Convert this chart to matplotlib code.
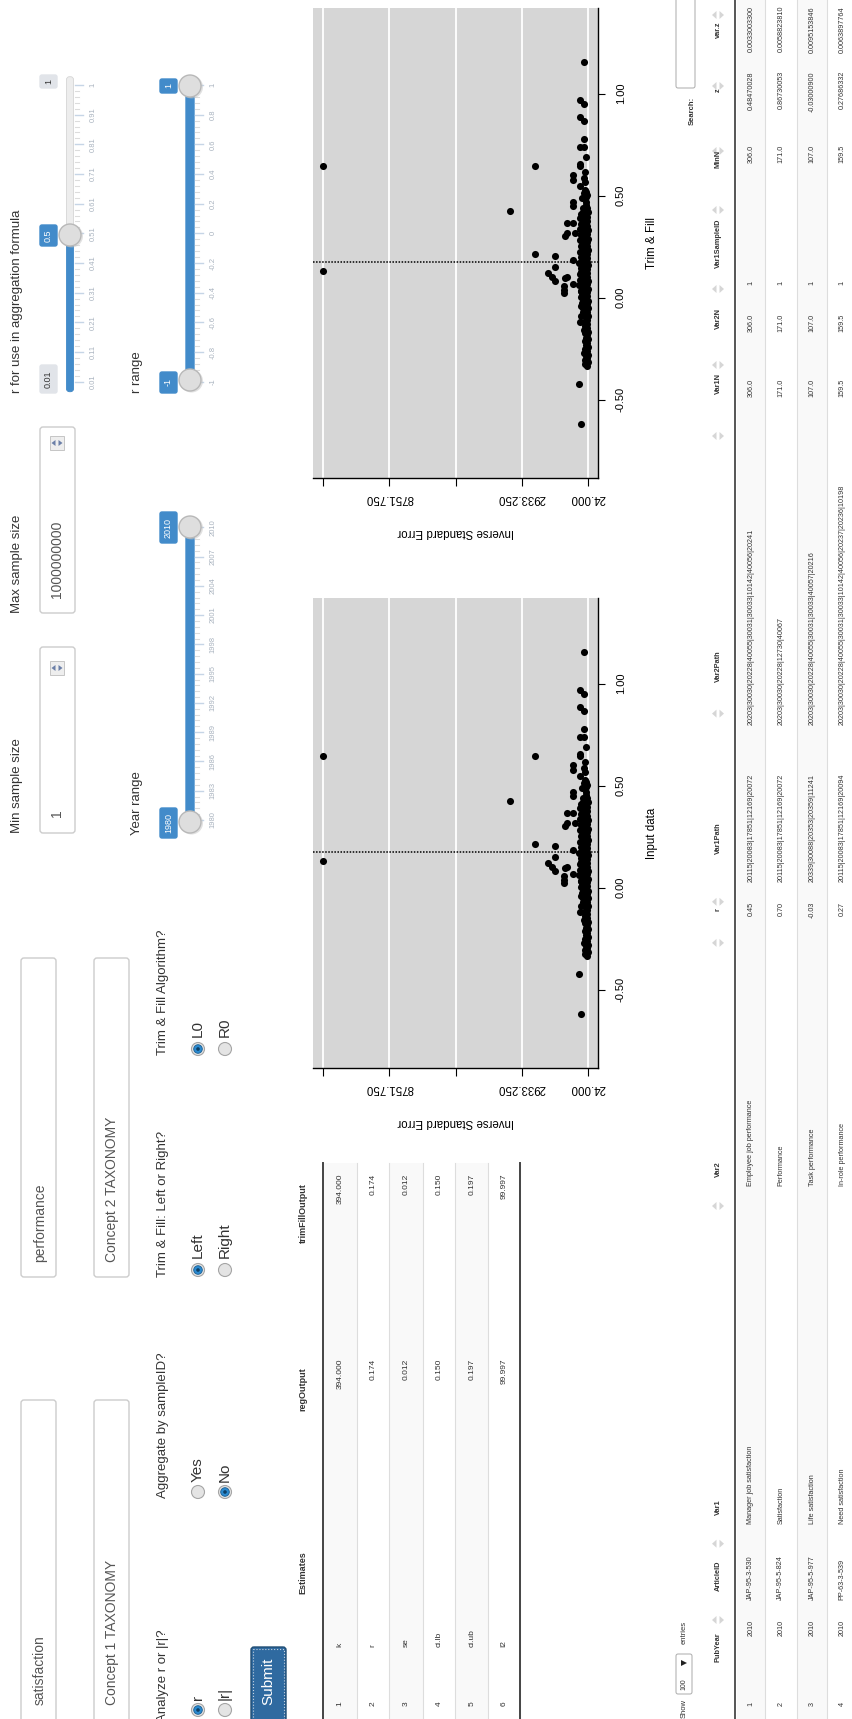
import matplotlib
matplotlib.use("Agg")
import matplotlib.pyplot as plt
import numpy as np
from matplotlib.patches import FancyBboxPatch, Circle, Rectangle, Polygon

plt.rcParams['font.family'] = ['Liberation Sans', 'DejaVu Sans']

# ---------------- data ----------------
# funnel plot: effect size r and inverse standard error
sparse_r = [0.647, 0.129, 0.647, 0.424, 0.214, 0.204, 0.149, 0.120, 0.100, 0.083,
            0.095, 0.103, 0.057, 0.038, 0.022, 0.067, 0.185, 0.365, 0.302, 0.316,
            0.368, 0.316, 0.601, 0.577, 0.470, 0.449, 1.154, 0.969, 0.950, 0.884,
            0.866, 0.776, 0.740, 0.737, 0.691, 0.655, 0.646, 0.618, 0.585, 0.569,
            0.548, 0.512, 0.520, 0.495, -0.422, -0.617, 0.487, 0.438, 0.528, 0.505,
            0.470]
sparse_ise = [11661, 11661, 2351, 3448, 2351, 1473, 1473, 1767, 1620, 1473,
              1033, 960, 1100, 1100, 1100, 670, 670, 960, 1033, 960,
              670, 594, 670, 670, 670, 670, 186, 375, 186, 375,
              186, 217, 375, 186, 112, 375, 375, 156, 217, 156,
              375, 217, 112, 112, 420, 345, 300, 230, 143, 60,
              95]
mid_r = [-0.118, 0.005, 0.062, 0.118, 0.171, 0.226, 0.284, 0.338, 0.392,
         -0.091, -0.043, 0.031, 0.089, 0.143, 0.198, 0.253, 0.309, 0.362, 0.411]
mid_ise = [375, 350, 400, 365, 410, 380, 395, 360, 385,
           335, 348, 342, 357, 331, 352, 339, 346, 333, 341]
blob_r = [-0.334, -0.316, -0.297, -0.281, -0.262, -0.240, -0.223, -0.205, -0.181, -0.166,
          -0.148, -0.127, -0.109, -0.088, -0.071, -0.052, -0.030, -0.014, 0.008, 0.027,
          0.044, 0.066, 0.083, 0.101, 0.122, 0.139, 0.158, 0.177, 0.196, 0.213,
          0.234, 0.251, 0.272, 0.290, 0.311, 0.333, 0.352, 0.374, 0.395, 0.418, 0.441,
          -0.327, -0.305, -0.288, -0.270, -0.251, -0.232, -0.214, -0.196, -0.174, -0.157,
          -0.139, -0.118, -0.097, -0.079, -0.061, -0.042, -0.021, -0.004, 0.017, 0.036,
          0.055, 0.074, 0.092, 0.111, 0.131, 0.148, 0.168, 0.186, 0.205, 0.224,
          0.243, 0.262, 0.281, 0.300, 0.321, 0.342, 0.363, 0.384, 0.406, 0.428, 0.452,
          -0.068, -0.049, -0.027, -0.008, 0.012, 0.031, 0.052, 0.071, 0.089, 0.108,
          0.127, 0.146, 0.164, 0.183, 0.201, 0.221, 0.240, 0.259, 0.278, 0.297,
          0.316, 0.337, 0.356, 0.377, 0.399, 0.421]
blob_ise = [48, 35, 62, 41, 55, 38, 70, 44, 52, 33,
            66, 47, 58, 36, 73, 42, 61, 39, 50, 68,
            45, 57, 34, 64, 49, 71, 40, 59, 46, 67,
            37, 54, 63, 43, 56, 31, 69, 48, 60, 41, 52,
            142, 168, 125, 190, 151, 133, 176, 118, 160, 197,
            139, 182, 128, 155, 171, 113, 188, 146, 163, 121,
            179, 137, 194, 149, 116, 173, 158, 131, 185, 144,
            166, 124, 192, 153, 135, 178, 119, 161, 140, 183, 127,
            262, 241, 298, 227, 275, 310, 249, 286, 233, 268,
            319, 254, 292, 238, 277, 305, 245, 283, 222, 271,
            301, 256, 289, 236, 264, 247]
r_estimate = 0.174
ise_ticks = [24.0, 2933.25, 5842.5, 8751.75, 11661.0]
ise_labels = ['24.000', '2933.250', '', '8751.750', '']
r_ticks = [-0.5, 0.0, 0.5, 1.0]

# estimates table
est_names = ['k', 'r', 'se', 'ci.lb', 'ci.ub', 'I2']
reg_output = [394.000, 0.174, 0.012, 0.150, 0.197, 99.997]
trimfill_output = [394.000, 0.174, 0.012, 0.150, 0.197, 99.997]

# data table rows
pub_year = ['2010', '2010', '2010', '2010']
article_id = ['JAP-95-3-530', 'JAP-95-5-824', 'JAP-95-5-977', 'PP-63-3-539']
var1 = ['Manager job satisfaction', 'Satisfaction', 'Life satisfaction', 'Need satisfaction']
var2 = ['Employee job performance', 'Performance', 'Task performance', 'In-role performance']
r_col = ['0.45', '0.70', '-0.03', '0.27']
var1_path = ['20115|20083|17851|12169|20072', '20115|20083|17851|12169|20072',
             '20339|30088|20353|20359|11241', '20115|20083|17851|12169|20094']
var2_path = ['20203|30030|20228|40055|30031|30033|10142|40056|20241',
             '20203|30030|20228|12730|40067',
             '20203|30030|20228|40055|30031|30033|40057|20216',
             '20203|30030|20228|40055|30031|30033|10142|40056|20237|20236|10198']
var1_n = ['306.0', '171.0', '107.0', '159.5']
var2_n = ['306.0', '171.0', '107.0', '159.5']
sample_id = ['1', '1', '1', '1']
min_n = ['306.0', '171.0', '107.0', '159.5']
z_col = ['0.48470028', '0.86730053', '-0.03000900', '0.27686332']
var_z = ['0.0033003300', '0.0058823810', '0.0095153846', '0.0063897764']

# slider grids
agg_grid = ['0.01', '0.11', '0.21', '0.31', '0.41', '0.51', '0.61', '0.71', '0.81', '0.91', '1']
year_grid = ['1980', '1983', '1986', '1989', '1992', '1995', '1998', '2001', '2004', '2007', '2010']
rr_grid = ['-1', '-0.8', '-0.6', '-0.4', '-0.2', '0', '0.2', '0.4', '0.6', '0.8', '1']

# ---------------- page canvas (rotated screenshot, pixel coords) ----------------
W, H = 852, 1719
fig = plt.figure(figsize=(W / 100, H / 100), dpi=100)
ui = fig.add_axes([0, 0, 1, 1])
ui.set_xlim(0, W)
ui.set_ylim(H, 0)
ui.axis('off')

TXT = '#333333'
BLUE = '#428bca'


def label(x, y, s, size=9.5, anchor='start', color=TXT, weight='normal'):
    va = {'start': 'bottom', 'end': 'top', 'mid': 'center'}[anchor]
    ui.text(x, y, s, rotation=90, ha='center', va=va, fontsize=size,
            color=color, fontweight=weight, zorder=5)


def rbox(x0, x1, y0, y1, fc='white', ec='#cccccc', lw=1.0, rs=3, z=1):
    ui.add_patch(FancyBboxPatch((x0, y0), x1 - x0, y1 - y0,
                                boxstyle=f'round,pad=0,rounding_size={rs}',
                                fc=fc, ec=ec, lw=lw, zorder=z))


def radio(x, y, sel):
    ui.add_patch(Circle((x, y), 6.5, fc='#e4e4e4', ec='#a5a5a5', lw=0.8, zorder=3))
    if sel:
        ui.add_patch(Circle((x, y), 4.3, fc='#2a8ad0', ec='#1b5f93', lw=0.6, zorder=4))
        ui.add_patch(Circle((x, y), 1.8, fc='#0d3f66', ec='none', zorder=4))


def handle(x, y):
    ui.add_patch(Circle((x + 1.5, y + 1), 11.5, fc='#c4c4c4', ec='none', alpha=0.5, zorder=3))
    ui.add_patch(Circle((x, y), 11, fc='#dedede', ec='#b8b8b8', lw=1, zorder=4))


def grid(x_tick, x_lab, y_lo, y_hi, labels):
    pos = np.linspace(y_lo, y_hi, len(labels))
    step = pos[1] - pos[0]
    for i, (p, lab) in enumerate(zip(pos, labels)):
        ui.plot([x_tick, x_tick + 8], [p, p], color='#c6d5e6', lw=1, zorder=2)
        label(x_lab, p, lab, size=5.5, anchor='mid', color='#a9b3bf')
        if i < len(labels) - 1:
            for k in range(1, 5):
                q = p + step * k / 5
                ui.plot([x_tick, x_tick + 4], [q, q], color='#dcdcdc', lw=0.8, zorder=2)


def tag(x0, x1, y0, y1, s, fc=BLUE, color='white'):
    rbox(x0, x1, y0, y1, fc=fc, ec=fc, rs=2, z=5)
    label((x0 + x1) / 2, (y0 + y1) / 2, s, size=6.5, anchor='mid', color=color)


# text inputs
rbox(21, 56, 1400, 1730)
label(40, 1705, 'satisfaction', 10, color='#555555')
rbox(21, 56, 958, 1277)
label(40, 1262, 'performance', 10, color='#555555')
rbox(94, 129, 1400, 1730)
label(112, 1705, 'Concept 1 TAXONOMY', 10, color='#555555')
rbox(94, 129, 958, 1277)
label(112, 1262, 'Concept 2 TAXONOMY', 10, color='#555555')

# numeric inputs
label(17, 833, 'Min sample size')
rbox(40, 75, 647, 833)
label(57, 817, '1', 10, color='#555555')
label(17, 613, 'Max sample size')
rbox(40, 75, 427, 613)
label(57, 598, '1000000000', 10, color='#555555')
for yc in (668, 443):
    ui.add_patch(Rectangle((50, yc - 7), 14, 14, fc='#eeeeee', ec='#bdbdbd', lw=0.6, zorder=3))
    ui.add_patch(Polygon([[51.5, yc], [55.5, yc - 3], [55.5, yc + 3]], fc='#6b7fa8', zorder=4))
    ui.add_patch(Polygon([[62.5, yc], [58.5, yc - 3], [58.5, yc + 3]], fc='#6b7fa8', zorder=4))

# aggregation slider
label(17, 393, 'r for use in aggregation formula')
rbox(66.5, 73.5, 76.7, 391.7, fc='#ededed', ec='#d5d5d5', lw=0.6, rs=3, z=2)
rbox(66.5, 73.5, 235, 391.7, fc=BLUE, ec=BLUE, lw=0.6, rs=3, z=2)
grid(75, 93, 381.7, 85, agg_grid)
handle(70, 235)
tag(40, 57, 365, 393, '0.01', fc='#e1e4e9', color=TXT)
tag(40, 57, 75, 88, '1', fc='#e1e4e9', color=TXT)
tag(40, 57, 225, 246, '0.5')

# year slider
label(137, 835, 'Year range')
rbox(186, 194, 527, 822, fc=BLUE, ec=BLUE, rs=3, z=2)
grid(195, 213, 820, 527.3, year_grid)
handle(190, 822)
handle(190, 527)
tag(160, 177, 808, 838, '1980')
tag(160, 177, 512, 543, '2010')

# r range slider
label(137, 393, 'r range')
rbox(186, 194, 85, 380, fc=BLUE, ec=BLUE, rs=3, z=2)
grid(195, 213, 381.7, 85, rr_grid)
handle(190, 380)
handle(190, 86)
tag(160, 177, 372, 393, '-1')
tag(160, 177, 79, 93, '1')

# radio groups
label(163, 1722, 'Analyze r or |r|?')
radio(198, 1710, True)
label(198, 1700, 'r', 11)
radio(225, 1710, False)
label(225, 1700, '|r|', 11)
label(163, 1498, 'Aggregate by sampleID?')
radio(198, 1492, False)
label(198, 1482, 'Yes', 11)
radio(225, 1492, True)
label(225, 1482, 'No', 11)
label(163, 1277, 'Trim & Fill: Left or Right?')
radio(198, 1270, True)
label(198, 1258, 'Left', 11)
radio(225, 1270, False)
label(225, 1258, 'Right', 11)
label(163, 1055, 'Trim & Fill Algorithm?')
radio(198, 1049, True)
label(198, 1037, 'L0', 11)
radio(225, 1049, False)
label(225, 1037, 'R0', 11)

# submit button
rbox(251, 286, 1647, 1730, fc='#2f6aa0', ec='#204d74', rs=3, z=2)
ui.add_patch(Rectangle((253, 1649), 31, 80, fill=False, ec='#c7d3e0', ls=':', lw=0.8, zorder=3))
label(268.5, 1705, 'Submit', 11, color='white')

# estimates table
est_rows = [323.3, 356.7, 389.3, 422.7, 455, 488.3, 520]
for i in range(len(est_names)):
    x0, x1 = est_rows[i], est_rows[i + 1]
    if i % 2 == 0:
        ui.add_patch(Rectangle((x0, 1162.7), x1 - x0, H - 1162.7 + 5, fc='#f9f9f9', ec='none', zorder=1))
    ui.plot([x1, x1], [1162.7, H], color='#dddddd', lw=0.8, zorder=2)
    xc = (x0 + x1) / 2
    label(xc, 1704, str(i + 1), 6, anchor='mid')
    label(xc, 1647, est_names[i], 6)
    label(xc, 1358.6, f'{reg_output[i]:.3f}', 6, anchor='end')
    label(xc, 1173.6, f'{trimfill_output[i]:.3f}', 6, anchor='end')
ui.plot([323.3, 323.3], [1162.7, H], color='#444444', lw=1.4, zorder=3)
ui.plot([520, 520], [1162.7, H], color='#444444', lw=1.4, zorder=3)
label(303, 1594.5, 'Estimates', 6.5, weight='bold')
label(303, 1367.7, 'regOutput', 6.5, anchor='end', weight='bold')
label(303, 1182.7, 'trimFillOutput', 6.5, anchor='end', weight='bold')

# data table controls
label(684, 1718, 'Show', 5.5)
rbox(676, 692, 1654, 1694, ec='#aaaaaa', lw=0.7, rs=2)
label(684, 1690, '100', 5)
ui.add_patch(Polygon([[681, 1660], [681, 1666], [687, 1663]], fc='#222222', zorder=4))
label(684, 1643.5, 'entries', 5.5)
label(692, 111, 'Search:', 5.5, anchor='mid', weight='bold')
rbox(676, 695, -5, 88, ec='#aaaaaa', lw=0.7, rs=2)

# data table header
headers = [('PubYear', 1661.6, 'start'), ('ArticleID', 1590.9, 'start'), ('Var1', 1514.7, 'start'),
           ('Var2', 1177, 'start'), ('r', 910, 'mid'), ('Var1Path', 853.6, 'start'),
           ('Var2Path', 682, 'start'), ('Var1N', 394, 'start'), ('Var2N', 329, 'start'),
           ('Var1SampleID', 268, 'start'), ('MinN', 168, 'start'), ('z', 90, 'mid'),
           ('var.z', 38, 'start')]
for name, yy, anc in headers:
    label(718, yy, name, 5.3, anchor=anc, weight='bold')
for yc in [1620, 1543.7, 1206, 942.9, 901.8, 713.6, 436, 365, 289, 210, 151, 86, 15]:
    ui.add_patch(Polygon([[712, yc], [716.5, yc - 4], [716.5, yc + 4]], fc='#d6d6d6', zorder=4))
    ui.add_patch(Polygon([[724, yc], [719.5, yc - 4], [719.5, yc + 4]], fc='#d6d6d6', zorder=4))

dt_rows = [736.7, 765, 796.7, 827.3, 856.7]
for i in range(4):
    x0, x1 = dt_rows[i], dt_rows[i + 1]
    if i % 2 == 0:
        ui.add_patch(Rectangle((x0, -5), x1 - x0, H + 10, fc='#f9f9f9', ec='none', zorder=1))
    ui.plot([x1, x1], [0, H], color='#dddddd', lw=0.8, zorder=2)
    xc = (x0 + x1) / 2
    fs = 5.2
    label(xc, 1704, str(i + 1), fs, anchor='mid')
    label(xc, 1620, pub_year[i], fs, anchor='end')
    label(xc, 1600, article_id[i], fs)
    label(xc, 1523.7, var1[i], fs)
    label(xc, 1186, var2[i], fs)
    label(xc, 901.8, r_col[i], fs, anchor='end')
    label(xc, 882, var1_path[i], fs)
    label(xc, 725, var2_path[i], fs)
    label(xc, 379, var1_n[i], fs, anchor='end')
    label(xc, 314, var2_n[i], fs, anchor='end')
    label(xc, 283, sample_id[i], fs, anchor='mid')
    label(xc, 145, min_n[i], fs, anchor='end')
    label(xc, 71, z_col[i], fs, anchor='end')
    label(xc, 6, var_z[i], fs, anchor='end')
ui.plot([735, 735], [0, H], color='#555555', lw=1.4, zorder=3)

# ---------------- funnel plots ----------------
all_r = sparse_r + mid_r + blob_r
all_ise = sparse_ise + mid_ise + blob_ise


def funnel(top_px, bottom_px, title):
    ax = fig.add_axes([313.3 / W, 1 - bottom_px / H, (598.3 - 313.3) / W, (bottom_px - top_px) / H])
    ax.set_facecolor('#d6d6d6')
    ax.set_xlim(12100, -429)
    ax.set_ylim(-0.886, 1.418)
    for v in ise_ticks:
        ax.axvline(v, color='white', lw=1.3, zorder=0)
    ax.axhline(r_estimate, color='black', lw=1.1, ls=(0, (1, 1)), zorder=2)
    ax.scatter(all_ise, all_r, s=26, c='black', linewidths=0, zorder=3)
    for side in ('top', 'left'):
        ax.spines[side].set_visible(False)
    for side in ('bottom', 'right'):
        ax.spines[side].set_color('black')
        ax.spines[side].set_linewidth(1)
    ax.set_xticks(ise_ticks)
    ax.set_xticklabels(ise_labels)
    ax.tick_params(axis='x', length=5.5, pad=4.5, labelsize=8.3, labelrotation=180)
    ax.yaxis.tick_right()
    ax.set_yticks(r_ticks)
    ax.set_yticklabels([f'{t:.2f}' for t in r_ticks])
    ax.tick_params(axis='y', length=5, pad=7.5, labelsize=8, labelrotation=90)
    for t in ax.get_yticklabels():
        t.set_va('center')
    ax.set_xlabel('Inverse Standard Error', fontsize=8.3, rotation=180)
    ax.xaxis.set_label_coords(0.5, (478.4 - 532) / 470)
    ax.xaxis.label.set_va('center')
    ax.yaxis.set_label_position('right')
    ax.set_ylabel(title, fontsize=8.3, rotation=90)
    ax.yaxis.set_label_coords((652 - 313.3) / 285, 0.5)
    ax.yaxis.label.set_va('center')
    ax.yaxis.label.set_ha('center')
    return ax


funnel(8.4, 478.4, 'Trim & Fill')
funnel(598.4, 1068.4, 'Input data')

fig.savefig('out.png', dpi=100)
